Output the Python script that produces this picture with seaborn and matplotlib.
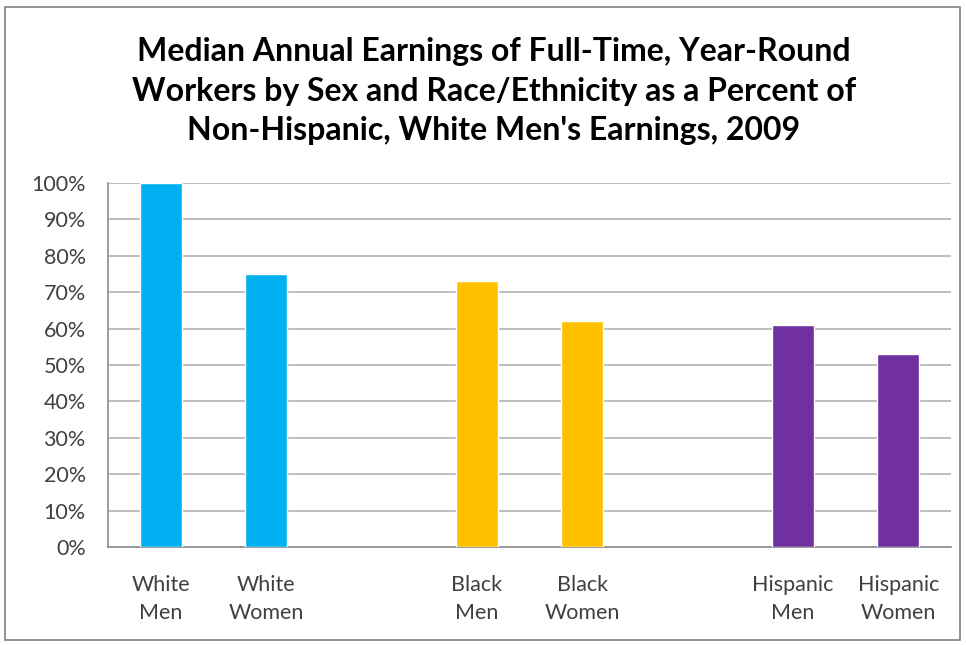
import matplotlib
matplotlib.use("Agg")
import matplotlib.pyplot as plt
import matplotlib.patches as mpatches
from matplotlib.ticker import PercentFormatter, MultipleLocator
import seaborn as sns
import pandas as pd

categories = ["White\nMen", "White\nWomen", "Black\nMen", "Black\nWomen", "Hispanic\nMen", "Hispanic\nWomen"]
values = [100, 75, 73, 62, 61, 53]
groups = ["White", "White", "Black", "Black", "Hispanic", "Hispanic"]
slot_order = ["White\nMen", "White\nWomen", "gap1", "Black\nMen", "Black\nWomen", "gap2", "Hispanic\nMen", "Hispanic\nWomen"]
group_colors = {"White": "#00B0F0", "Black": "#FFC000", "Hispanic": "#7030A0"}
title = "Median Annual Earnings of Full-Time, Year-Round\nWorkers by Sex and Race/Ethnicity as a Percent of\nNon-Hispanic, White Men's Earnings, 2009"

sns.set_theme(style="white")
plt.rcParams["font.family"] = ["Lato", "DejaVu Sans"]

df = pd.DataFrame({"category": categories, "value": values, "group": groups})

fig = plt.figure(figsize=(9.66, 6.45), dpi=100)
ax = fig.add_axes([108/966, 1-547/645, 843/966, 364/645])

sns.barplot(data=df, x="category", y="value", hue="group", order=slot_order,
            palette=group_colors, dodge=False, width=0.4, legend=False, ax=ax,
            saturation=1, zorder=3)

ax.set_ylim(0, 100)
ax.set_xlim(-0.5, len(slot_order) - 0.5)
ax.yaxis.set_major_locator(MultipleLocator(10))
ax.yaxis.set_major_formatter(PercentFormatter(decimals=0))
ax.grid(axis="y", color="#b3b3b3", linewidth=1.2, zorder=0)
ax.set_axisbelow(True)
ax.set_xlabel("")
ax.set_ylabel("")
ax.set_xticks(range(len(slot_order)))
ax.set_xticklabels([s if not s.startswith("gap") else "" for s in slot_order])
ax.tick_params(axis="x", length=0, pad=20, labelsize=15.5, labelcolor="#404040")
ax.tick_params(axis="y", length=0, pad=16, labelsize=15.5, labelcolor="#404040")
for t in ax.get_xticklabels():
    t.set_linespacing(1.5)
for side in ["top", "right"]:
    ax.spines[side].set_visible(False)
for side in ["left", "bottom"]:
    ax.spines[side].set_color("#8c8c8c")
    ax.spines[side].set_linewidth(1.2)

fig.text(494/966, 1-91/645, title, ha="center", va="center", fontsize=23,
         fontweight="bold", color="black", linespacing=1.45)

fig.patches.append(mpatches.Rectangle((5/966, 5/645), 955/966, 633/645,
                                      transform=fig.transFigure, fill=False,
                                      edgecolor="#808080", linewidth=1.2))

fig.savefig("out.png", dpi=100)
